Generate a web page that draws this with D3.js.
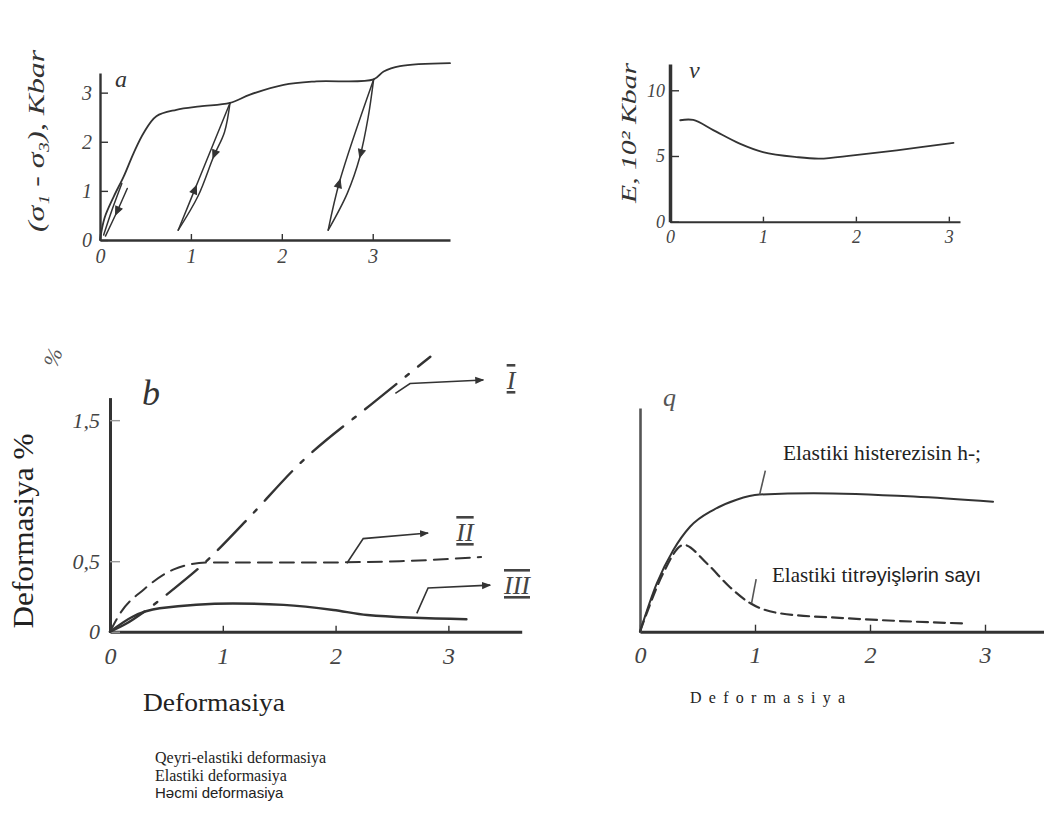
<!DOCTYPE html>
<html>
<head>
<meta charset="utf-8">
<script src="https://cdn.jsdelivr.net/npm/d3@7"></script>
<style>
  body { margin: 0; background: #fff; }
  svg { display: block; }
</style>
</head>
<body>
<div id="chart"></div>
<script>
// ---- panel a : stress-strain curve with unloading loops ----
const aMainX = [0, 0.05, 0.15, 0.26, 0.37, 0.48, 0.62, 0.84, 1.10, 1.43, 1.65, 2.02, 2.38, 3.01, 3.12, 3.30, 3.85];
const aMainY = [0, 0.45, 0.88, 1.29, 1.77, 2.18, 2.52, 2.65, 2.72, 2.79, 2.96, 3.16, 3.23, 3.27, 3.43, 3.54, 3.60];
// loops: unloading (down) and reloading (up) branches
const aLoopDownX = [[0.30, 0.18, 0.06], [1.43, 1.37, 1.25, 1.08, 0.86], [3.01, 2.95, 2.86, 2.72, 2.51]];
const aLoopDownY = [[1.05, 0.55, 0.08], [2.79, 2.20, 1.70, 0.90, 0.20], [3.27, 2.50, 1.70, 0.95, 0.20]];
const aLoopUpX = [[0.04, 0.13, 0.24], [0.86, 1.085, 1.43], [2.51, 2.64, 3.01]];
const aLoopUpY = [[0.10, 0.60, 1.15], [0.20, 1.22, 2.79], [0.20, 1.22, 3.27]];
const aArrowDown = [0.55, 0.42, 0.5];    // where the arrow sits along each branch
const aArrowUp = [null, 0.35, 0.33];
const aTicksX = [0, 1, 2, 3];
const aTicksY = [0, 1, 2, 3];

// ---- panel v : modulus E ----
const vX = [0.11, 0.25, 0.47, 0.75, 1.0, 1.36, 1.61, 1.97, 2.44, 3.05];
const vY = [7.72, 7.74, 6.95, 5.94, 5.3, 4.92, 4.8, 5.05, 5.43, 6.0];
const vTicksX = [0, 1, 2, 3];
const vTicksY = [0, 5, 10];

// ---- panel b : deformation components ----
const bX1 = [0, 0.15, 0.3, 0.56, 0.8, 1.21, 1.68, 2.36, 2.84];
const bY1 = [0, 0.06, 0.14, 0.3, 0.46, 0.79, 1.19, 1.64, 1.95];
const bX2 = [0, 0.09, 0.3, 0.56, 0.86, 1.68, 2.57, 3.29];
const bY2 = [0, 0.13, 0.3, 0.44, 0.49, 0.49, 0.5, 0.53];
const bX3 = [0, 0.2, 0.44, 1.09, 1.54, 1.98, 2.28, 3.16];
const bY3 = [0, 0.106, 0.166, 0.2, 0.19, 0.154, 0.118, 0.088];
const bLeaderX = [[2.53, 2.66, 3.31], [2.10, 2.245, 2.82], [2.72, 2.82, 3.37]];
const bLeaderY = [[1.69, 1.76, 1.785], [0.485, 0.66, 0.70], [0.13, 0.31, 0.33]];
const bNames = ["I", "II", "III"];
const bTicksX = [0, 1, 2, 3];
const bTicksY = [0, 0.5, 1.5];

// ---- panel q : hysteresis and vibrations ----
const gHystX = [0, 0.146, 0.29, 0.435, 0.64, 0.84, 1.04, 1.51, 2.38, 3.07];
const gHystY = [0, 0.216, 0.365, 0.469, 0.545, 0.59, 0.613, 0.619, 0.604, 0.581];
const gVibX = [0, 0.058, 0.2, 0.38, 0.58, 0.78, 0.96, 1.22, 1.8, 2.38, 2.81];
const gVibY = [0, 0.082, 0.26, 0.388, 0.306, 0.2, 0.127, 0.082, 0.06, 0.045, 0.037];
const gLeadX = [[1.04, 1.09], [0.97, 1.01]];
const gLeadY = [[0.613, 0.72], [0.127, 0.235]];
const gTicksX = [0, 1, 2, 3];

const legendLines = ["Qeyri-elastiki deformasiya", "Elastiki deformasiya", "Həcmi deformasiya"];

const ink = "#333333";
const serif = "'Liberation Serif', 'Times New Roman', serif";
const sans = "'Liberation Sans', Arial, sans-serif";

const svg = d3.select("#chart").append("svg")
    .attr("width", 1044)
    .attr("height", 821);

svg.append("defs").append("marker")
    .attr("id", "head")
    .attr("viewBox", "0 -5 10 10")
    .attr("refX", 9)
    .attr("markerWidth", 9)
    .attr("markerHeight", 9)
    .attr("markerUnits", "userSpaceOnUse")
    .attr("orient", "auto")
  .append("path")
    .attr("d", "M0,-4L10,0L0,4Z")
    .attr("fill", ink);

function pathOf(xs, ys, sx, sy, curve) {
    return d3.line()
        .x(function(d) { return sx(d[0]); })
        .y(function(d) { return sy(d[1]); })
        .curve(curve || d3.curveMonotoneX)(d3.zip(xs, ys));
}

function styleAxis(g, size, tickColor) {
    g.attr("font-family", null).attr("font-size", null);
    g.select(".domain").attr("stroke", ink).attr("stroke-width", 2.4);
    g.selectAll(".tick line").attr("stroke", tickColor || ink).attr("stroke-width", 1.4);
    g.selectAll(".tick text")
        .attr("fill", "#444")
        .attr("font-family", serif)
        .attr("font-style", "italic")
        .attr("font-size", size);
}

function drawCurve(d, dash, width) {
    return svg.append("path")
        .attr("d", d)
        .attr("fill", "none")
        .attr("stroke", ink)
        .attr("stroke-width", width || 1.8)
        .attr("stroke-dasharray", dash || null)
        .attr("stroke-linecap", "round");
}

function arrowOn(pathSel, t) {
    const node = pathSel.node();
    const L = node.getTotalLength();
    const p = node.getPointAtLength(t * L);
    const q = node.getPointAtLength(Math.min(L, t * L + 2));
    const ang = Math.atan2(q.y - p.y, q.x - p.x) * 180 / Math.PI;
    svg.append("path")
        .attr("d", "M-8,-3.5L0,0L-8,3.5Z")
        .attr("transform", "translate(" + p.x + "," + p.y + ") rotate(" + ang + ")")
        .attr("fill", ink)
        .attr("stroke", ink)
        .attr("stroke-width", 1);
}

/* ================= panel a ================= */
const ax = d3.scaleLinear().domain([0, 3.85]).range([100, 450]);
const ay = d3.scaleLinear().domain([0, 3.4]).range([240, 73]);

svg.append("g").attr("transform", "translate(0,240)")
    .call(d3.axisBottom(ax).tickValues(aTicksX).tickSize(-6).tickSizeOuter(0).tickPadding(9).tickFormat(d3.format("d")))
    .call(function(g) { styleAxis(g, 20); });
svg.append("g").attr("transform", "translate(100,0)")
    .call(d3.axisLeft(ay).tickValues(aTicksY).tickSize(-8).tickSizeOuter(0).tickPadding(8).tickFormat(d3.format("d")))
    .call(function(g) { styleAxis(g, 20); });

drawCurve(pathOf(aMainX, aMainY, ax, ay, d3.curveCatmullRom.alpha(0.5)));
aLoopDownX.forEach(function(xs, i) {
    const down = drawCurve(pathOf(xs, aLoopDownY[i], ax, ay, d3.curveCatmullRom), null, 1.5);
    arrowOn(down, aArrowDown[i]);
    const up = drawCurve(pathOf(aLoopUpX[i], aLoopUpY[i], ax, ay, d3.curveCatmullRom), null, 1.5);
    if (aArrowUp[i] !== null) arrowOn(up, aArrowUp[i]);
});

svg.append("text").attr("x", 115).attr("y", 87)
    .attr("font-family", serif).attr("font-style", "italic").attr("font-size", 24).attr("fill", ink)
    .text("a");
svg.append("text")
    .attr("transform", "translate(44,141) rotate(-90)")
    .attr("text-anchor", "middle")
    .attr("font-family", serif).attr("font-style", "italic").attr("font-size", 24).attr("fill", "#333")
    .attr("textLength", 182).attr("lengthAdjust", "spacingAndGlyphs")
    .text("(σ₁ - σ₃), Kbar");

/* ================= panel v ================= */
const vx = d3.scaleLinear().domain([0, 3.12]).range([670, 960]);
const vy = d3.scaleLinear().domain([0, 12]).range([221.7, 64]);

svg.append("g").attr("transform", "translate(0,221.7)")
    .call(d3.axisBottom(vx).tickValues(vTicksX).tickSize(-5).tickSizeOuter(0).tickPadding(9).tickFormat(d3.format("d")))
    .call(function(g) { styleAxis(g, 18); g.select(".domain").attr("stroke-width", 2); });
svg.append("g").attr("transform", "translate(670,0)")
    .call(d3.axisLeft(vy).tickValues(vTicksY).tickSize(-9).tickSizeOuter(0).tickPadding(5).tickFormat(d3.format("d")))
    .call(function(g) { styleAxis(g, 18); g.select(".domain").attr("stroke-width", 3.5); });

drawCurve(pathOf(vX, vY, vx, vy, d3.curveCatmullRom.alpha(0.5)));

svg.append("text").attr("x", 689).attr("y", 78)
    .attr("font-family", serif).attr("font-style", "italic").attr("font-size", 24).attr("fill", ink)
    .text("v");
svg.append("text")
    .attr("transform", "translate(636,133) rotate(-90)")
    .attr("text-anchor", "middle")
    .attr("font-family", serif).attr("font-style", "italic").attr("font-size", 22).attr("fill", "#333")
    .attr("textLength", 140).attr("lengthAdjust", "spacingAndGlyphs")
    .text("E, 10² Kbar");

/* ================= panel b ================= */
const bx = d3.scaleLinear().domain([0, 3.65]).range([110, 521.7]);
const by = d3.scaleLinear().domain([0, 1.66]).range([631.7, 397.6]);

svg.append("g").attr("transform", "translate(0,631.7)")
    .call(d3.axisBottom(bx).tickValues(bTicksX).tickSize(-6).tickSizeOuter(0).tickPadding(15).tickFormat(d3.format("d")))
    .call(function(g) { styleAxis(g, 24); g.select(".domain").attr("stroke-width", 3); });
svg.append("g").attr("transform", "translate(110,0)")
    .call(d3.axisLeft(by).tickValues(bTicksY).tickSize(-10).tickSizeOuter(0).tickPadding(10)
        .tickFormat(function(d) { return String(d).replace(".", ","); }))
    .call(function(g) { styleAxis(g, 22, "#999"); g.select(".domain").attr("stroke-width", 3); });

drawCurve(pathOf(bX1, bY1, bx, by), "40,12,4,12", 2.4);
drawCurve(pathOf(bX2, bY2, bx, by), "14,8", 2);
drawCurve(pathOf(bX3, bY3, bx, by), null, 2.4);

bLeaderX.forEach(function(xs, i) {
    svg.append("path")
        .attr("d", pathOf(xs, bLeaderY[i], bx, by, d3.curveLinear))
        .attr("fill", "none")
        .attr("stroke", ink)
        .attr("stroke-width", 1.6)
        .attr("marker-end", "url(#head)");
});
const bLabelPos = [[511, 389], [465, 541], [517, 594]];
bNames.forEach(function(n, i) {
    svg.append("text")
        .attr("x", bLabelPos[i][0]).attr("y", bLabelPos[i][1])
        .attr("text-anchor", "middle")
        .attr("font-family", serif).attr("font-style", "italic").attr("font-size", 26).attr("fill", "#444")
        .style("text-decoration", "overline underline")
        .text(n);
});

svg.append("text").attr("x", 142).attr("y", 405)
    .attr("font-family", serif).attr("font-style", "italic").attr("font-size", 36).attr("fill", ink)
    .text("b");
svg.append("text")
    .attr("transform", "translate(60,360) rotate(-70)")
    .attr("text-anchor", "middle")
    .attr("font-family", serif).attr("font-style", "italic").attr("font-size", 22).attr("fill", "#555")
    .text("%");
svg.append("text")
    .attr("transform", "translate(33,531) rotate(-90)")
    .attr("text-anchor", "middle")
    .attr("font-family", serif).attr("font-size", 30).attr("fill", "#222")
    .attr("textLength", 195).attr("lengthAdjust", "spacingAndGlyphs")
    .text("Deformasiya %");
svg.append("text").attr("x", 143).attr("y", 711)
    .attr("font-family", serif).attr("font-size", 25).attr("fill", "#222")
    .attr("textLength", 142).attr("lengthAdjust", "spacingAndGlyphs")
    .text("Deformasiya");

/* ================= panel q ================= */
const gx = d3.scaleLinear().domain([0, 3.52]).range([640, 1044.8]);
const gy = d3.scaleLinear().domain([0, 1]).range([631.7, 408]);

svg.append("g").attr("transform", "translate(0,631.7)")
    .call(d3.axisBottom(gx).tickValues(gTicksX).tickSize(-7).tickSizeOuter(0).tickPadding(14).tickFormat(d3.format("d")))
    .call(function(g) { styleAxis(g, 24); g.select(".domain").attr("stroke-width", 3); });
svg.append("g").attr("transform", "translate(640,0)")
    .call(d3.axisLeft(gy).tickValues([]).tickSizeOuter(0))
    .call(function(g) { styleAxis(g, 20); g.select(".domain").attr("stroke-width", 2.6).attr("stroke", "#555"); });

drawCurve(pathOf(gHystX, gHystY, gx, gy), null, 2);
drawCurve(pathOf(gVibX, gVibY, gx, gy), "11,6", 2.2);
gLeadX.forEach(function(xs, i) {
    svg.append("path")
        .attr("d", pathOf(xs, gLeadY[i], gx, gy, d3.curveLinear))
        .attr("fill", "none")
        .attr("stroke", "#555")
        .attr("stroke-width", 1.6);
});

svg.append("text").attr("x", 663).attr("y", 406)
    .attr("font-family", serif).attr("font-style", "italic").attr("font-size", 26).attr("fill", "#555")
    .text("q");
svg.append("text").attr("x", 783).attr("y", 460)
    .attr("font-family", serif).attr("font-size", 21).attr("fill", "#222")
    .attr("textLength", 198).attr("lengthAdjust", "spacingAndGlyphs")
    .text("Elastiki histerezisin h-;");
const vibText = svg.append("text").attr("x", 772).attr("y", 582).attr("fill", "#222");
vibText.append("tspan").attr("font-family", serif).attr("font-size", 21).text("Elastiki tit");
vibText.append("tspan").attr("font-family", sans).attr("font-size", 20).text("rəyişlərin sayı");
svg.append("text").attr("x", 690).attr("y", 703)
    .attr("font-family", serif).attr("font-size", 16).attr("fill", "#222")
    .attr("textLength", 155).attr("lengthAdjust", "spacing")
    .text("Deformasiya");

/* ================= bottom legend ================= */
legendLines.forEach(function(t, i) {
    svg.append("text")
        .attr("x", 155).attr("y", 763 + i * 17.5)
        .attr("font-family", i === 2 ? sans : serif)
        .attr("font-size", i === 2 ? 15 : 16)
        .attr("fill", "#222")
        .text(t);
});
</script>
</body>
</html>
